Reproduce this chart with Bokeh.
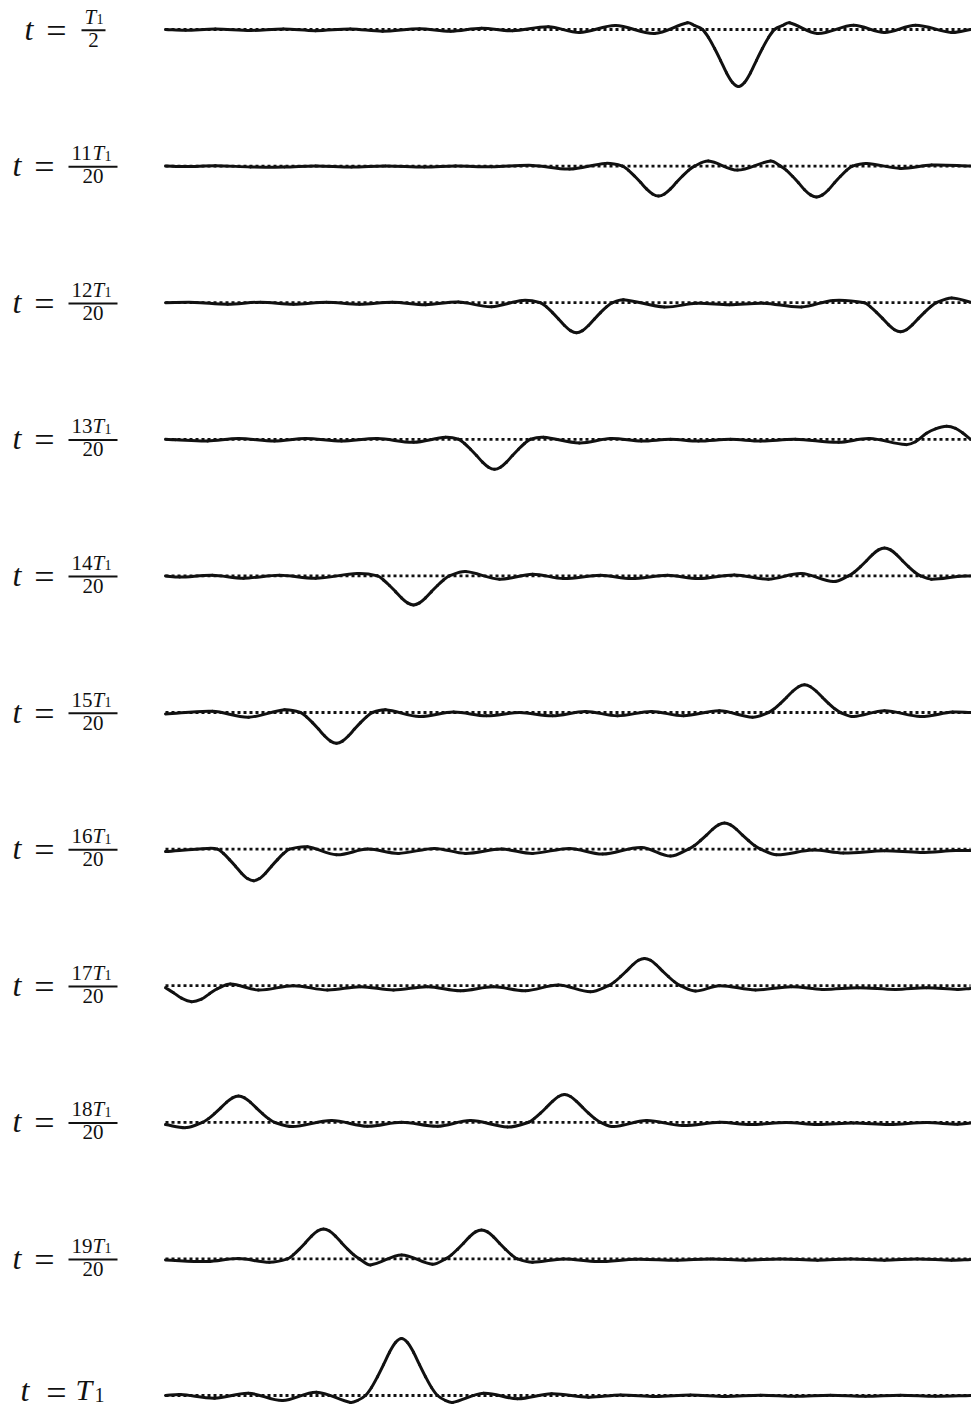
from bokeh.plotting import figure
from bokeh.models import Range1d
from bokeh.embed import file_html
from bokeh.resources import INLINE
from bokeh.core.properties import value

# ---------------- data (string position s in 0..805, displacement in px, up = +) ----
STRING_LENGTH = 805

X10 = [0, 20, 50, 85, 118, 150, 185, 217, 254, 285, 316, 347, 383, 414, 450, 489, 522, 529, 537,
       543, 549, 555, 561, 567, 573, 579, 585, 591, 597, 603, 609, 617, 624, 652, 688, 719, 750, 786, 805]
Y10 = [0, -0.8, 0.5, -1, 0.5, -1.2, 0.5, -1.7, 0.7, -1.7, 1.3, -1.3, 2.7, -3, 4, -4, 6.7, 4, 0,
       -8, -18.8, -30.8, -43.3, -53, -57, -53, -43.3, -30.8, -18.8, -8, 0, 4, 6.7, -4, 4.3, -3, 4.3, -3, 0]

X11 = [0, 20, 50, 85, 119, 150, 186, 220, 259, 290, 326, 367, 404, 440,
       457, 463, 469, 475, 481, 487, 493, 499, 505, 511, 517, 523, 529, 543, 572, 605,
       615, 621, 627, 633, 639, 645, 651, 657, 663, 669, 675, 681, 687, 701, 735, 766, 805]
Y11 = [0, -0.5, 0.3, -0.8, -1, 0.2, -1, 0.2, -1, 0, -0.7, 0.7, -3, 2.7,
       0, -4.2, -9.9, -16.2, -22.8, -27.9, -30, -27.9, -22.8, -16.2, -9.9, -4.2, 0, 5, -4, 5,
       0, -4.3, -10.2, -16.7, -23.6, -28.8, -31, -28.8, -23.6, -16.7, -10.2, -4.3, 0, 2.7, -2.3, 1, 0]

X12 = [0, 29, 62, 95, 128, 161, 194, 227, 260, 293, 326, 357,
       375, 381, 387, 393, 399, 405, 411, 417, 423, 429, 435, 441, 447,
       458, 499, 531, 564, 598, 636, 668,
       699, 705, 711, 717, 723, 729, 735, 741, 747, 753, 759, 765, 771, 786, 805]
Y12 = [0, 0.3, -1.5, 0.5, -1.5, 0.5, -1.5, 0.5, -2, 0.7, -4, 2.3,
       0, -4.2, -9.9, -16.2, -22.8, -27.9, -30, -27.9, -22.8, -16.2, -9.9, -4.2, 0,
       3, -4.3, -0.5, -2, -0.5, -4.3, 2.3,
       0, -4.1, -9.6, -15.7, -22, -27, -29, -27, -22, -15.7, -9.6, -4.1, 0, 4.7, 0.5]

X13 = [0, 10, 42, 73, 109, 140, 176, 212, 248, 280,
       293, 299, 305, 311, 317, 323, 329, 335, 341, 347, 353, 359, 365,
       378, 414, 445, 476, 505, 533, 565, 595, 630, 673, 704, 740,
       750, 761, 770, 781, 790, 797, 805]
Y13 = [0, -0.5, -1.7, 0.7, -1.7, 0.7, -1.7, 0.7, -3, 2,
       0, -4.2, -9.9, -16.2, -22.8, -27.9, -30, -27.9, -22.8, -16.2, -9.9, -4.2, 0,
       2, -3.7, 0.7, -1.7, 0, -1.7, 0, -1.7, 0, -3, 0.7, -5.3,
       -2.5, 6, 10.5, 13, 11, 6.5, 0]

X14 = [0, 14, 47, 78, 114, 150, 192,
       212, 218, 224, 230, 236, 242, 248, 254, 260, 266, 272, 278, 284,
       300, 334, 367, 398, 435, 466, 502, 533, 569, 603, 636, 668,
       683, 689, 695, 701, 707, 713, 719, 725, 731, 737, 743, 749, 755, 766, 792, 805]
Y14 = [0, -1.2, 0.7, -2.3, 0.7, -2.3, 2.3,
       0, -4.1, -9.6, -15.7, -22, -27, -29, -27, -22, -15.7, -9.6, -4.1, 0,
       4.3, -3.3, 1.7, -2.7, 0.7, -2.7, 0.7, -2.7, 1, -3.3, 2.3, -5.7,
       0, 3.9, 9.2, 15.1, 21.3, 26, 28, 26, 21.3, 15.1, 9.2, 3.9, 0, -3.3, -0.7, 0]

X15 = [0, 47, 83, 119,
       135, 141, 147, 153, 159, 165, 171, 177, 183, 189, 195, 201, 207,
       220, 254, 288, 321, 354, 387, 420, 452, 486, 518, 554, 587,
       603, 609, 615, 621, 627, 633, 639, 645, 651, 657, 663, 669, 675, 688, 719, 755, 787, 805]
Y15 = [-1.5, 1.3, -4.7, 2.7,
       0, -4.3, -10.1, -16.6, -23.3, -28.6, -30.7, -28.6, -23.3, -16.6, -10.1, -4.3, 0,
       2.7, -4, 0.5, -3.3, 0, -3.3, 1, -3.3, 1, -3.3, 1.7, -4.7,
       0, 3.9, 9.1, 15, 21, 25.8, 27.7, 25.8, 21, 15, 9.1, 3.9, 0, -4, 1.7, -4, 0.5, 0]

X16 = [0, 42,
       52, 58, 64, 70, 76, 82, 88, 94, 100, 106, 112, 118, 124,
       142, 171, 202, 233, 269, 300, 336, 367, 404, 437, 476, 505,
       523, 529, 535, 541, 547, 553, 559, 565, 571, 577, 583, 589, 595,
       611, 647, 678, 719, 755, 790, 805]
Y16 = [-2.5, 0.7,
       0, -4.4, -10.5, -17.1, -24.1, -29.5, -31.7, -29.5, -24.1, -17.1, -10.5, -4.4, 0,
       2.3, -5.7, 0, -4.3, 0.7, -4.3, 0, -4.3, 0.7, -5, 1.7, -7,
       0, 3.6, 8.6, 14, 19.8, 24.2, 26, 24.2, 19.8, 14, 8.6, 3.6, 0,
       -5.7, -1, -4, -1.7, -3.3, -1.5, -1.5]

X17 = [0, 8, 16, 26, 36, 44, 52, 65,
       93, 128, 162, 195, 228, 262, 295, 328, 360, 393, 425,
       443, 449, 455, 461, 467, 473, 479, 485, 491, 497, 503, 509, 515,
       530, 554, 590, 626, 657, 693, 730, 761, 792, 805]
Y17 = [-2, -7, -12.5, -16, -13.5, -8, -3, 1.7,
       -4.3, 0, -4.3, -1, -4.3, -1, -5, -1, -5, 0.7, -6,
       0, 3.8, 9, 14.7, 20.7, 25.4, 27.3, 25.4, 20.7, 14.7, 9, 3.8, 0,
       -5.3, 0, -4.3, -1, -3.7, -2, -3.7, -2, -3.7, -2.7]

X18 = [0, 21,
       37, 43, 49, 55, 61, 67, 73, 79, 85, 91, 97, 103, 109,
       127, 166, 202, 236, 272, 305, 342,
       363, 369, 375, 381, 387, 393, 399, 405, 411, 417, 423, 429, 435,
       448, 481, 517, 554, 585, 621, 652, 688, 724, 761, 792, 805]
Y18 = [-2.3, -5.3,
       0, 3.7, 8.7, 14.2, 20, 24.5, 26.3, 24.5, 20, 14.2, 8.7, 3.7, 0,
       -4.3, 1.7, -4, 0, -4, 1.7, -4.7,
       0, 3.9, 9.1, 15, 21, 25.8, 27.7, 25.8, 21, 15, 9.1, 3.9, 0,
       -4.3, 1.7, -3.3, 0, -2.3, -0.3, -2.3, -0.7, -2.3, -0.3, -2, -0.7]

X19 = [0, 42, 73, 104,
       122, 128, 134, 140, 146, 152, 158, 164, 170, 176, 182, 188, 194,
       205, 236, 267,
       280, 286, 292, 298, 304, 310, 316, 322, 328, 334, 340, 346, 352,
       367, 398, 432, 471, 512, 545, 580, 615, 652, 685, 719, 752, 786, 805]
Y19 = [-1, -2.7, 0.3, -3.3,
       0, 4.2, 9.9, 16.2, 22.8, 27.9, 30, 27.9, 22.8, 16.2, 9.9, 4.2, 0,
       -6, 4, -5.3,
       0, 4.1, 9.6, 15.7, 22, 27, 29, 27, 22, 15.7, 9.6, 4.1, 0,
       -3.3, 0, -2.7, -0.3, -1.3, 0, -1.3, 0, -1.3, 0, -1.3, 0, -1.3, -0.5]

X20 = [0, 15, 49, 83, 117, 151, 185, 192,
       200, 206, 212, 218, 224, 230, 236, 242, 248, 254, 260, 266, 272,
       280, 287, 318, 352, 386, 423, 455, 490, 525, 560, 595, 630, 665, 700, 735, 770, 805]
Y20 = [0, 1, -2.7, 2.3, -5, 3.3, -7, -5,
       0, 8, 18.8, 30.8, 43.3, 53, 57, 53, 43.3, 30.8, 18.8, 8, 0,
       -5, -7, 2.3, -3.3, 1.7, -1.7, 0.5, -1, 0.5, -1, 0.3, -0.8, 0.3, -0.8, 0.3, -0.8, 0]

NUMERATORS = ["", "11", "12", "13", "14", "15", "16", "17", "18", "19", None]
DENOMINATORS = ["2", "20", "20", "20", "20", "20", "20", "20", "20", "20", None]

ROWS = [(X10, Y10), (X11, Y11), (X12, Y12), (X13, Y13), (X14, Y14), (X15, Y15),
        (X16, Y16), (X17, Y17), (X18, Y18), (X19, Y19), (X20, Y20)]

# ---------------- layout ----------------
W, H = 971, 1412
ROW_GAP = 136.6
X_OFF = 165          # picture x of s = 0
Y_TOP = 29           # picture y of the first equilibrium line
TXT_LIFT = 9         # compensation for text baseline placement
FONT = value("Liberation Serif")
INK = "#111111"

p = figure(width=W, height=H, x_range=Range1d(-X_OFF, W - X_OFF),
           y_range=Range1d(Y_TOP - H, Y_TOP), output_backend="svg", toolbar_location=None,
           min_border=0, x_axis_location=None, y_axis_location=None)
p.grid.visible = False
p.outline_line_color = None
p.background_fill_color = "white"
p.border_fill_color = "white"


def ix(x_img):
    return x_img - X_OFF


def txt(x_img, y0, below, s, size, style="normal", align="left"):
    # 'below': picture pixels of the text baseline below the row's equilibrium line
    p.text(x=[ix(x_img)], y=[y0 - below + TXT_LIFT], text=[s], text_font=FONT,
           text_font_size=f"{size}px", text_font_style=style, text_align=align,
           text_baseline="alphabetic", text_color=INK)


def smooth(xs, ys):
    """Cubic Hermite pieces through the read points (drawn as Bezier segments)."""
    n = len(xs)
    slopes = []
    for i in range(n):
        a = max(i - 1, 0)
        b = min(i + 1, n - 1)
        slopes.append((ys[b] - ys[a]) / (xs[b] - xs[a]))
    seg = dict(x0=[], y0=[], x1=[], y1=[], cx0=[], cy0=[], cx1=[], cy1=[])
    for i in range(n - 1):
        h = xs[i + 1] - xs[i]
        seg["x0"].append(xs[i]); seg["y0"].append(ys[i])
        seg["x1"].append(xs[i + 1]); seg["y1"].append(ys[i + 1])
        seg["cx0"].append(xs[i] + h / 3); seg["cy0"].append(ys[i] + slopes[i] * h / 3)
        seg["cx1"].append(xs[i + 1] - h / 3); seg["cy1"].append(ys[i + 1] - slopes[i + 1] * h / 3)
    return seg


for k, (xs, ys) in enumerate(ROWS):
    y0 = -k * ROW_GAP
    # dotted equilibrium line
    p.segment(x0=[0], y0=[y0], x1=[STRING_LENGTH], y1=[y0], line_color=INK,
              line_width=2.8, line_dash="3 3")
    # string displacement
    p.bezier(**smooth(xs, [y0 + d for d in ys]), line_color=INK, line_width=3,
             line_cap="round")

    num, den = NUMERATORS[k], DENOMINATORS[k]
    if num is None:
        # t = T_1
        txt(20, y0, 3, "t", 32, "italic")
        txt(56, y0, 6, "=", 36, "normal", "center")
        txt(75, y0, 3, "T", 30, "italic")
        txt(94, y0, 8, "1", 20)
        continue
    if num == "":
        tx, eqx, bar0, bar1, nx = 24, 56, 81, 105, 84
    else:
        tx, eqx, bar0, bar1, nx = 12, 44, 68, 117, 71
    txt(tx, y0, 8, "t", 32, "italic")
    txt(eqx, y0, 10, "=", 36, "normal", "center")
    if num:
        txt(nx, y0, -4, num, 21)
        tpos = nx + 10.5 * len(num)
    else:
        tpos = nx
    txt(tpos, y0, -4, "T", 21, "italic")
    txt(tpos + 12, y0, -1.5, "1", 14)
    p.segment(x0=[ix(bar0)], y0=[y0 - 0.7], x1=[ix(bar1)], y1=[y0 - 0.7],
              line_color=INK, line_width=2)
    txt((bar0 + bar1) / 2, y0, 19, den, 21, "normal", "center")

open("out.html", "w").write(file_html(p, INLINE))
